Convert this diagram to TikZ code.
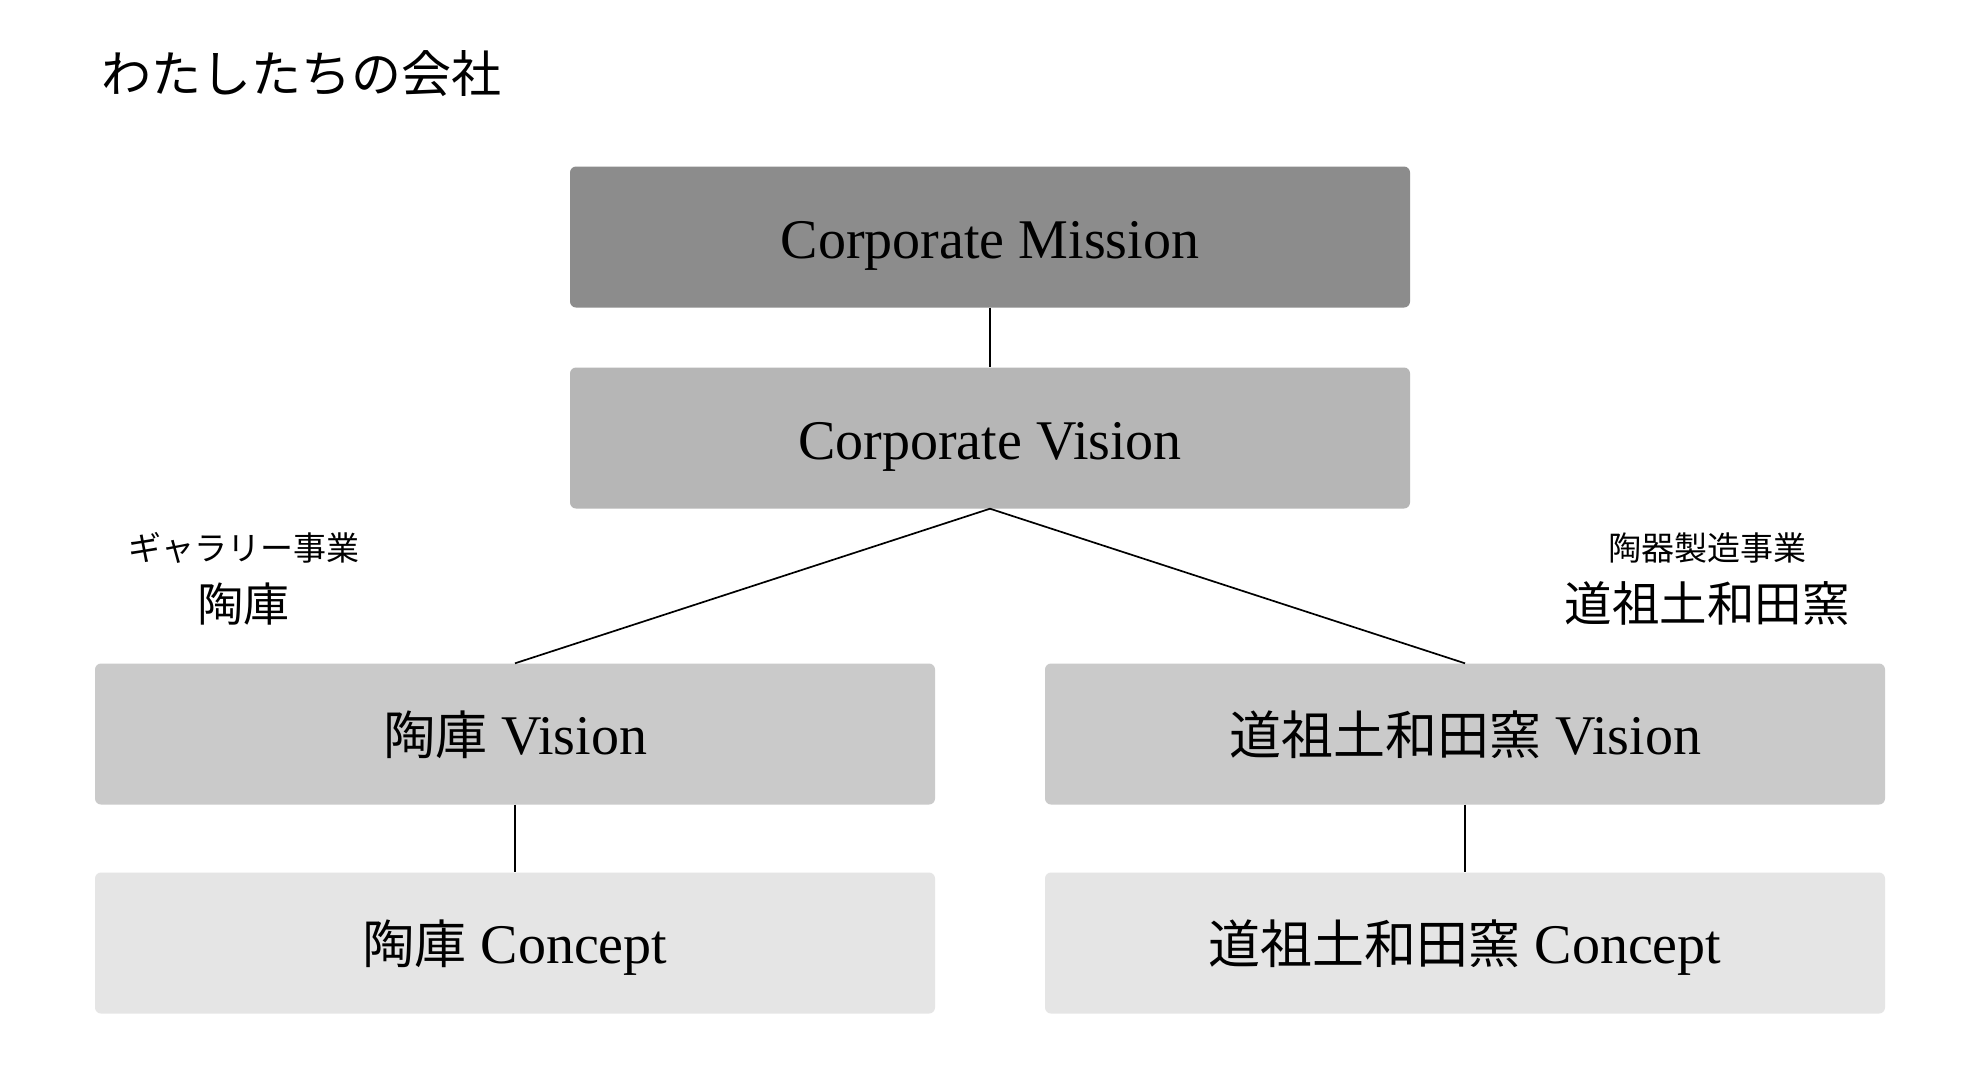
\documentclass[tikz,border=0pt]{standalone}
\usepackage{fontspec}
\setmainfont{Liberation Serif}
\newfontfamily\cjk{Noto Sans CJK JP}
\definecolor{cMission}{HTML}{8C8C8C}
\definecolor{cVision}{HTML}{B6B6B6}
\definecolor{cSub}{HTML}{CACACA}
\definecolor{cConcept}{HTML}{E5E5E5}
\begin{document}
\begin{tikzpicture}[x=1pt,y=-1pt,
  boxnode/.style={rectangle, rounded corners=6pt, minimum width=840pt, minimum height=141pt,
    inner sep=0pt, text height=37pt, text depth=0pt, text=black,
    font=\fontsize{56}{60}\selectfont},
  conn/.style={draw=black, line width=1.7pt},
  smalllab/.style={anchor=base, inner sep=0pt, font=\cjk\fontsize{33}{36}\selectfont},
  biglab/.style={anchor=base, inner sep=0pt, font=\cjk\fontsize{46}{50}\selectfont}]
\useasboundingbox (0,0) rectangle (1980,1080);
\fill[white] (0,0) rectangle (1980,1080);

\node[anchor=base west, inner sep=0pt, font=\cjk\fontsize{50}{54}\selectfont] (title) at (101,92) {わたしたちの会社};

\node[boxnode, fill=cMission] (mission) at (990,237) {\raisebox{-3pt}{Corporate Mission}};
\node[boxnode, fill=cVision] (vision) at (990,438) {\raisebox{-3pt}{Corporate Vision}};
\node[boxnode, fill=cSub] (tvision) at (515,734) {\raisebox{-2pt}{{\cjk\fontsize{52}{56}\selectfont 陶庫} Vision}};
\node[boxnode, fill=cSub] (dvision) at (1465,734) {\raisebox{-2pt}{{\cjk\fontsize{52}{56}\selectfont 道祖土和田窯} Vision}};
\node[boxnode, fill=cConcept] (tconcept) at (515,943) {\raisebox{-2pt}{{\cjk\fontsize{52}{56}\selectfont 陶庫} Concept}};
\node[boxnode, fill=cConcept] (dconcept) at (1465,943) {\raisebox{-2pt}{{\cjk\fontsize{52}{56}\selectfont 道祖土和田窯} Concept}};

\node[smalllab] (tbiz) at (244,560) {ギャラリー事業};
\node[biglab] (tname) at (243,621) {陶庫};
\node[smalllab] (dbiz) at (1707,560) {陶器製造事業};
\node[biglab, font=\cjk\fontsize{47.5}{50}\selectfont] (dname) at (1707,621) {道祖土和田窯};

\draw[conn] (mission.south) -- (vision.north);
\draw[conn] (vision.south) -- (tvision.north);
\draw[conn] (vision.south) -- (dvision.north);
\draw[conn] (tvision.south) -- (tconcept.north);
\draw[conn] (dvision.south) -- (dconcept.north);
\end{tikzpicture}
\end{document}
